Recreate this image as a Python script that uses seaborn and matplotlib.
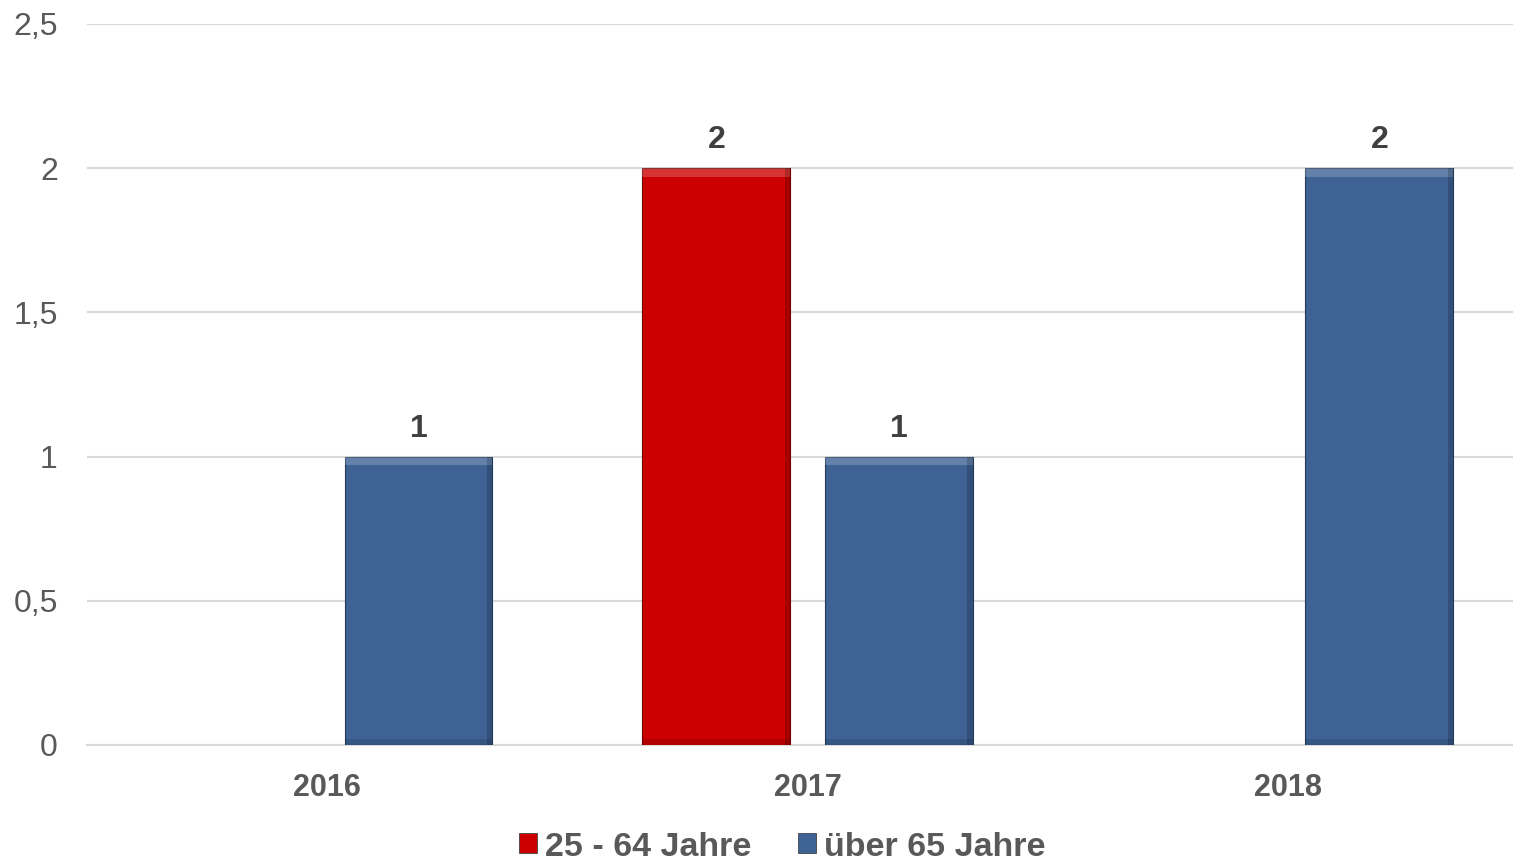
import matplotlib
matplotlib.use("Agg")
import matplotlib.pyplot as plt
import seaborn as sns
import pandas as pd
import numpy as np
from matplotlib.patches import Patch

years = ["2016", "2017", "2018"]
series_names = ["25 - 64 Jahre", "über 65 Jahre"]
vals_25_64 = [0, 2, 0]
vals_ueber65 = [1, 1, 2]
colors = ["#CC0000", "#3E6294"]
yticks = [0, 0.5, 1, 1.5, 2, 2.5]
ytick_labels = ["0", "0,5", "1", "1,5", "2", "2,5"]

df = pd.DataFrame({
    "Jahr": years * 2,
    "Gruppe": [series_names[0]] * 3 + [series_names[1]] * 3,
    "Wert": vals_25_64 + vals_ueber65,
})

sns.set_theme(style="white")
plt.rcParams["font.family"] = ["Liberation Sans", "DejaVu Sans"]

fig = plt.figure(figsize=(15.13, 8.61), dpi=100)
ax = fig.add_axes([87 / 1513, 1 - 745 / 861, 1426 / 1513, (745 - 24) / 861])

sns.barplot(data=df, x="Jahr", y="Wert", hue="Gruppe", hue_order=series_names,
            palette=colors, saturation=1, width=0.76, gap=0.19, linewidth=0,
            ax=ax, legend=False, zorder=3)

for p in list(ax.patches):
    if p.get_height() > 0:
        fc = p.get_facecolor()
        is_red = fc[0] > 0.6
        p.set_edgecolor("#6e0000" if is_red else "#22395a")
        p.set_linewidth(0.8)
        x, w, h = p.get_x(), p.get_width(), p.get_height()
        # bevel highlights
        ax.add_patch(plt.Rectangle((x, h - 0.03), w, 0.03, color="white",
                                   alpha=0.2, lw=0, zorder=4))
        ax.add_patch(plt.Rectangle((x + w - 0.012, 0), 0.012, h, color="black",
                                   alpha=0.18, lw=0, zorder=4))
        ax.add_patch(plt.Rectangle((x, 0), w, 0.02, color="black",
                                   alpha=0.12, lw=0, zorder=4))
        ax.text(x + w / 2, h + 0.045, f"{int(h)}", ha="center", va="bottom",
                fontsize=23, fontweight="bold", color="#404040")

ax.set_ylim(0, 2.5)
ax.set_xlim(-0.5, 2.468)
ax.set_yticks(yticks)
ax.set_yticklabels(ytick_labels, fontsize=23, color="#595959")
ax.set_xticks(range(len(years)))
ax.set_xticklabels(years, fontsize=22, fontweight="bold", color="#595959")
ax.tick_params(axis="both", length=0)
ax.tick_params(axis="y", pad=21)
ax.tick_params(axis="x", pad=20)
ax.set_xlabel("")
ax.set_ylabel("")
ax.grid(axis="y", color="#D9D9D9", linewidth=1.5, zorder=0)
ax.set_axisbelow(True)
for s in ["left", "right", "top"]:
    ax.spines[s].set_visible(False)
ax.spines["bottom"].set_color("#D9D9D9")
ax.spines["bottom"].set_linewidth(1.5)

handles = [Patch(facecolor=c, edgecolor="#444444", linewidth=0.6) for c in colors]
fig.legend(handles, series_names, loc="center", bbox_to_anchor=(0.517, 1 - 847 / 861),
           ncol=2, frameon=False, handlelength=0.53, handleheight=0.53,
           handletextpad=0.25, columnspacing=1.35,
           prop={"size": 24.5, "weight": "bold"}, labelcolor="#595959")

fig.savefig("out.png", dpi=100)
